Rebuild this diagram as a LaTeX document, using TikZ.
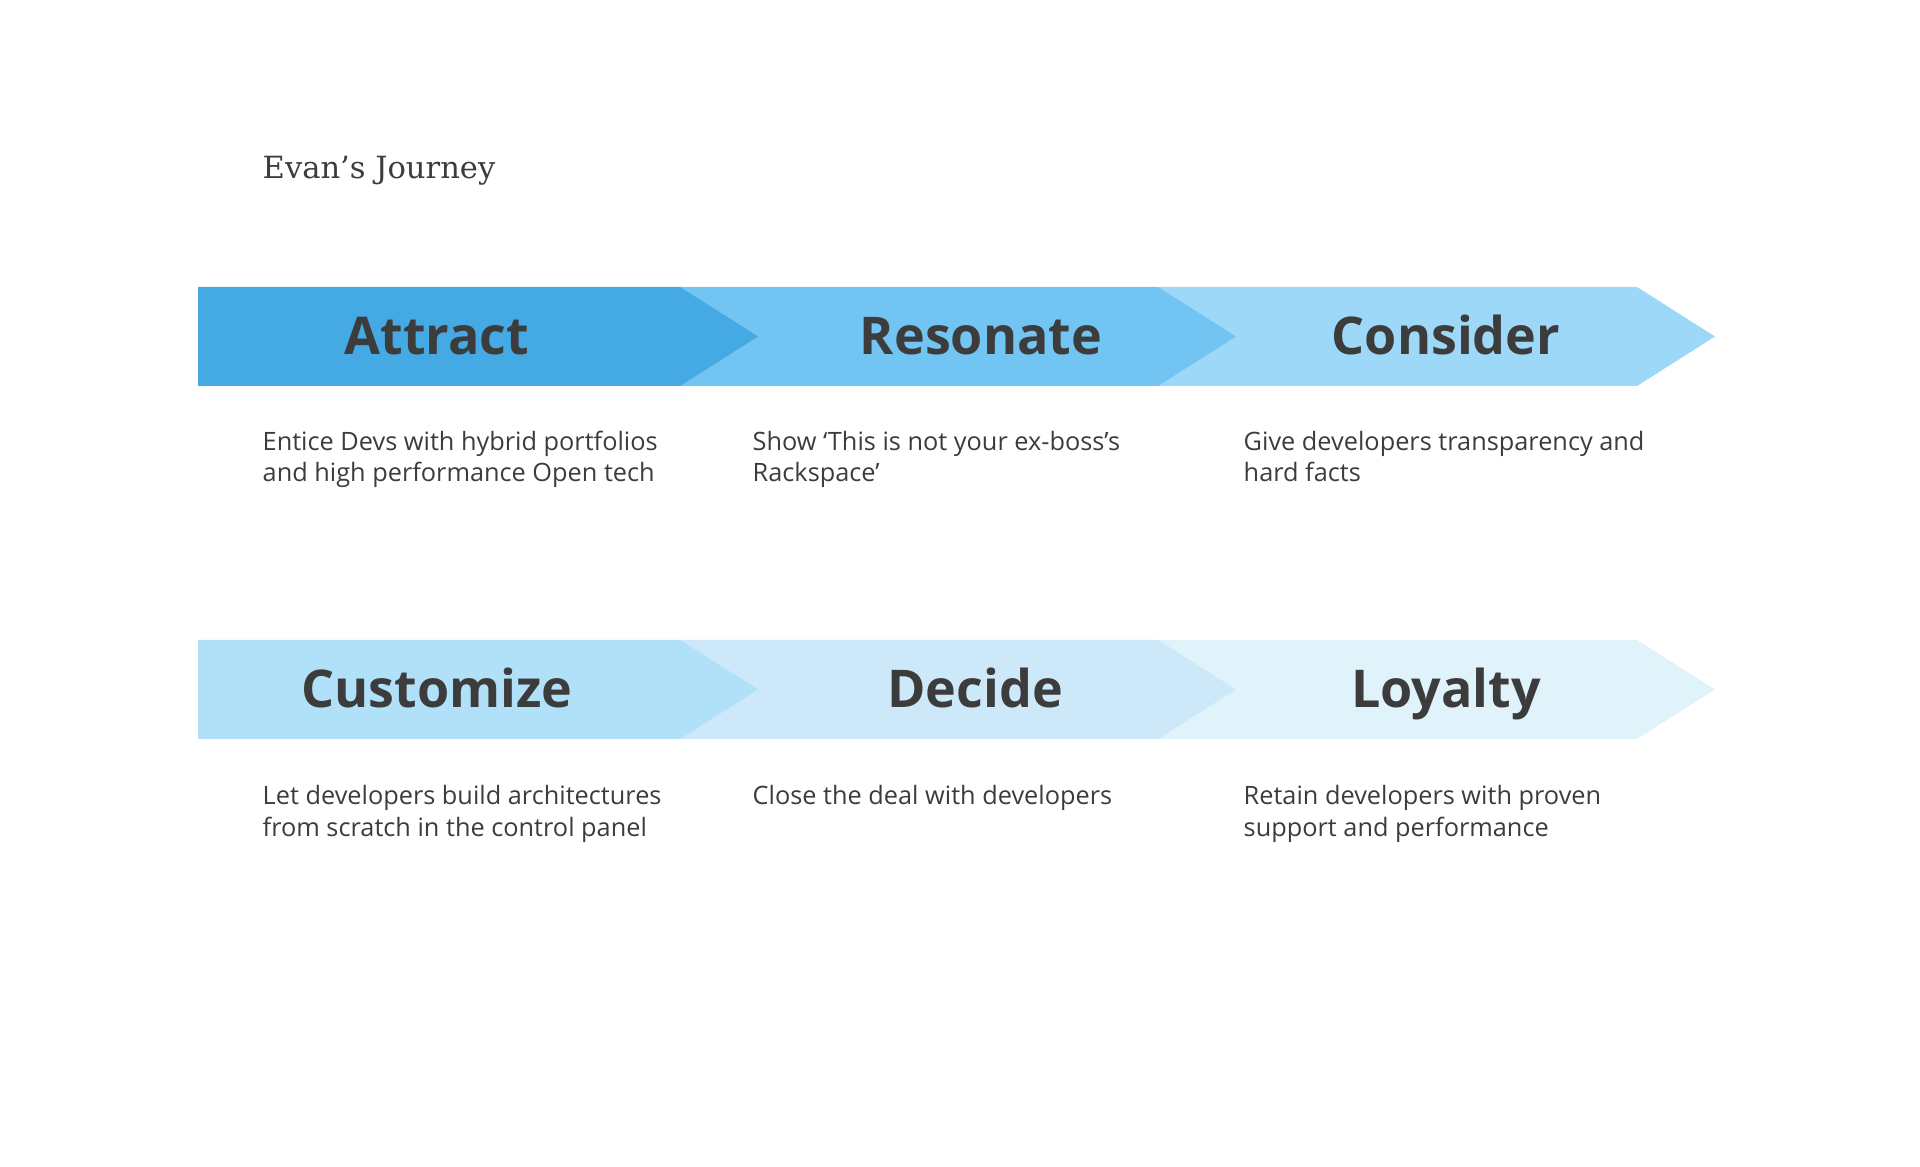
\documentclass[tikz,border=0pt]{standalone}
\usepackage{fontspec}
\setmainfont{Open Sans}
\newfontfamily\titlefont{DejaVu Serif}
\usepackage{xcolor}
\definecolor{ink}{HTML}{3C3C3C}
\definecolor{attract}{HTML}{45AAE4}
\definecolor{resonate}{HTML}{72C5F2}
\definecolor{consider}{HTML}{9DD8F8}
\definecolor{customize}{HTML}{B1E1F8}
\definecolor{decide}{HTML}{CDE9F9}
\definecolor{loyalty}{HTML}{E0F2FA}

\begin{document}
\begin{tikzpicture}[
            every node/.style={inner sep=0pt,text=ink},
            stage/.style={anchor=base,font=\fontsize{14.8}{17}\selectfont\bfseries},
            blurb/.style={anchor=base west,align=left,font=\fontsize{7.2}{9.1}\selectfont},
            heading/.style={anchor=base west,font=\titlefont\fontsize{8.7}{11}\selectfont}
        ]
        \useasboundingbox (0,0) rectangle (19.2,-11.67);
        \node[heading] (title) at (2.62,-1.785) {Evan’s Journey};
        \foreach \x/\w/\c in {11.58/4.79/consider,6.80/4.78/resonate,1.98/4.82/attract}
        \fill[\c] (\x,-2.87) -- ++(\w,0) -- ++(0.78,-0.495) -- ++(-0.78,-0.495) -- ++(-\w,0) -- cycle;
        \foreach \x/\w/\c in {11.58/4.79/loyalty,6.80/4.78/decide,1.98/4.82/customize}
        \fill[\c] (\x,-6.40) -- ++(\w,0) -- ++(0.78,-0.495) -- ++(-0.78,-0.495) -- ++(-\w,0) -- cycle;
        \node[stage] (attract) at (4.37,-3.55) {Attract};
        \node[stage] (resonate) at (9.81,-3.55) {Resonate};
        \node[stage] (consider) at (14.46,-3.55) {Consider};
        \node[stage] (customize) at (4.37,-7.08) {Customize};
        \node[stage] (decide) at (9.75,-7.08) {Decide};
        \node[stage] (loyalty) at (14.46,-7.08) {Loyalty};
        \node[blurb] (attractText) at (2.62,-4.82) {Entice Devs with hybrid portfolios\\and high performance Open tech};
        \node[blurb] (resonateText) at (7.52,-4.82) {Show ‘This is not your ex-boss’s\\Rackspace’};
        \node[blurb] (considerText) at (12.43,-4.82) {Give developers transparency and\\hard facts};
        \node[blurb] (customizeText) at (2.62,-8.36) {Let developers build architectures\\from scratch in the control panel};
        \node[blurb] (decideText) at (7.52,-8.04) {Close the deal with developers};
        \node[blurb] (loyaltyText) at (12.43,-8.36) {Retain developers with proven\\support and performance};
    \end{tikzpicture}
\end{document}
